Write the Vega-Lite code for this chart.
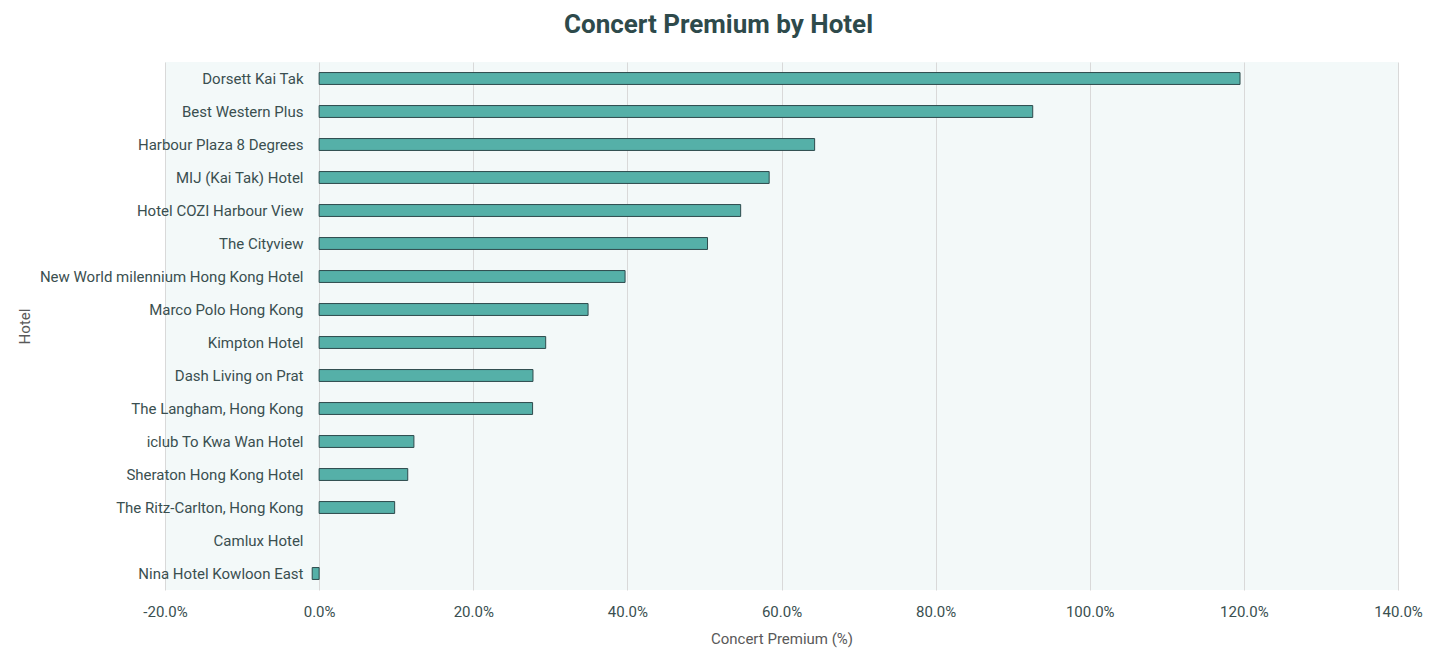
{
  "$schema": "https://vega.github.io/schema/vega-lite/v6.json",
  "autosize": "none",
  "padding": {"left": 165, "top": 62, "right": 40, "bottom": 77},
  "width": 1233,
  "height": 528,
  "title": {
    "text": "Concert Premium by Hotel",
    "anchor": "middle",
    "dx": -63,
    "offset": 24,
    "fontSize": 26,
    "font": "Roboto",
    "fontWeight": "bold",
    "color": "#2e4a4b"
  },
  "data": {
    "values": [
      {"Hotel": "Dorsett Kai Tak", "premium": 1.195},
      {"Hotel": "Best Western Plus", "premium": 0.926},
      {"Hotel": "Harbour Plaza 8 Degrees", "premium": 0.643},
      {"Hotel": "MIJ (Kai Tak) Hotel", "premium": 0.584},
      {"Hotel": "Hotel COZI Harbour View", "premium": 0.547},
      {"Hotel": "The Cityview", "premium": 0.504},
      {"Hotel": "New World milennium Hong Kong Hotel", "premium": 0.397},
      {"Hotel": "Marco Polo Hong Kong", "premium": 0.349},
      {"Hotel": "Kimpton Hotel", "premium": 0.294},
      {"Hotel": "Dash Living on Prat", "premium": 0.2775},
      {"Hotel": "The Langham, Hong Kong", "premium": 0.277},
      {"Hotel": "iclub To Kwa Wan Hotel", "premium": 0.123},
      {"Hotel": "Sheraton Hong Kong Hotel", "premium": 0.115},
      {"Hotel": "The Ritz-Carlton, Hong Kong", "premium": 0.098},
      {"Hotel": "Camlux Hotel", "premium": 0},
      {"Hotel": "Nina Hotel Kowloon East", "premium": -0.009}
    ]
  },
  "mark": {
    "type": "bar",
    "fill": "#55b0a8",
    "stroke": "#2d4a4c",
    "strokeWidth": 1
  },
  "encoding": {
    "y": {
      "field": "Hotel",
      "type": "nominal",
      "sort": {"field": "premium", "order": "descending"},
      "scale": {"paddingInner": 0.64, "paddingOuter": 0.32},
      "axis": {
        "title": "Hotel",
        "offset": -154,
        "domain": false,
        "ticks": false,
        "labelPadding": 16,
        "labelLimit": 400,
        "titleX": -295,
        "titleY": 264,
        "titleAngle": -90,
        "titleAlign": "center",
        "titleBaseline": "middle"
      }
    },
    "x": {
      "field": "premium",
      "type": "quantitative",
      "scale": {"domain": [-0.2, 1.4], "nice": false, "zero": false},
      "axis": {
        "title": "Concert Premium (%)",
        "values": [-0.2, 0, 0.2, 0.4, 0.6, 0.8, 1.0, 1.2, 1.4],
        "labelExpr": "replace(format(datum.value, '.1%'), '\u2212', '-')",
        "labelFlush": false,
        "labelOverlap": false,
        "domain": false,
        "ticks": false,
        "labelPadding": 14,
        "titlePadding": 12,
        "gridColor": "#d9d9d9",
        "gridWidth": 1
      }
    },
    "strokeOpacity": {
      "condition": {"test": "datum.premium == 0", "value": 0},
      "value": 1
    }
  },
  "config": {
    "view": {"fill": "#f3f9f9", "stroke": null},
    "axis": {
      "labelFont": "Roboto",
      "labelFontSize": 15,
      "labelColor": "#3a4f50",
      "titleFont": "Roboto",
      "titleFontSize": 15,
      "titleFontWeight": "normal",
      "titleColor": "#595959"
    }
  }
}
